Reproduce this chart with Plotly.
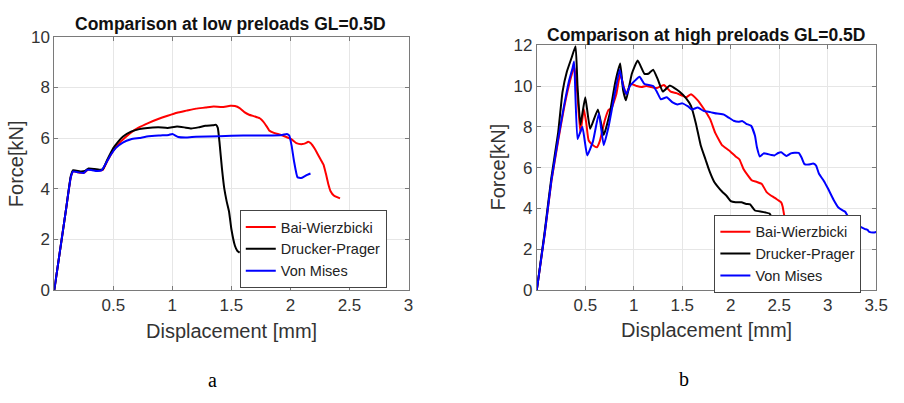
import plotly.graph_objects as go

# ---------------- data: low preloads (a) ----------------
bw_low_x = [0, 0.05, 0.10, 0.14, 0.16, 0.22, 0.26, 0.29, 0.34, 0.38, 0.41, 0.45, 0.50, 0.56, 0.62, 0.66,
            0.71, 0.80, 0.88, 0.96, 1.04, 1.12, 1.20, 1.28, 1.35, 1.42, 1.49, 1.53, 1.57, 1.61, 1.65,
            1.70, 1.74, 1.77, 1.80, 1.82, 1.86, 1.90, 1.96, 2.01, 2.05, 2.10, 2.13, 2.15, 2.17, 2.21,
            2.25, 2.28, 2.30, 2.32, 2.34, 2.37, 2.42]
bw_low_y = [0, 1.6, 3.2, 4.45, 4.68, 4.63, 4.65, 4.77, 4.75, 4.72, 4.74, 5.1, 5.5, 5.85, 6.1, 6.25,
            6.4, 6.6, 6.75, 6.88, 7.0, 7.08, 7.16, 7.2, 7.24, 7.22, 7.27, 7.26, 7.18, 7.02, 6.92,
            6.85, 6.78, 6.65, 6.45, 6.3, 6.2, 6.15, 6.05, 5.95, 5.8, 5.76, 5.8, 5.85, 5.8, 5.55,
            5.2, 4.95, 4.6, 4.2, 3.9, 3.72, 3.62]

dp_low_x = [0, 0.05, 0.10, 0.14, 0.16, 0.22, 0.26, 0.29, 0.34, 0.38, 0.41, 0.45, 0.50, 0.54, 0.58, 0.65,
            0.72, 0.79, 0.88, 0.96, 1.04, 1.10, 1.16, 1.22, 1.28, 1.34, 1.37, 1.385, 1.40, 1.42, 1.44,
            1.46, 1.48, 1.50, 1.53, 1.55, 1.57]
dp_low_y = [0, 1.6, 3.2, 4.5, 4.73, 4.68, 4.7, 4.8, 4.78, 4.75, 4.76, 5.15, 5.6, 5.85, 6.05, 6.25,
            6.35, 6.4, 6.42, 6.4, 6.45, 6.42, 6.38, 6.42, 6.48, 6.5, 6.52, 6.4, 5.8, 4.8, 4.0,
            3.5, 3.1, 2.4, 1.75, 1.55, 1.48]

vm_low_x = [0, 0.05, 0.10, 0.14, 0.16, 0.20, 0.25, 0.28, 0.32, 0.36, 0.40, 0.44, 0.48, 0.52, 0.58, 0.65,
            0.72, 0.80, 0.90, 0.97, 1.00, 1.05, 1.12, 1.20, 1.40, 1.60, 1.80, 1.93, 1.97, 1.99, 2.01,
            2.03, 2.06, 2.09, 2.13, 2.17]
vm_low_y = [0, 1.6, 3.2, 4.45, 4.68, 4.65, 4.62, 4.75, 4.73, 4.7, 4.72, 5.02, 5.35, 5.6, 5.82, 5.95,
            6.0, 6.07, 6.1, 6.12, 6.16, 6.04, 6.02, 6.05, 6.07, 6.1, 6.1, 6.12, 6.16, 6.1, 5.7,
            5.1, 4.45, 4.42, 4.52, 4.6]

# ---------------- data: high preloads (b) ----------------
bw_high_x = [0, 0.08, 0.15, 0.22, 0.28, 0.33, 0.37, 0.39, 0.42, 0.45, 0.485, 0.51, 0.535, 0.58, 0.62,
             0.65, 0.70, 0.74, 0.77, 0.82, 0.86, 0.89, 0.92, 0.97, 1.03, 1.08, 1.13, 1.18, 1.24, 1.31,
             1.38, 1.44, 1.49, 1.54, 1.59, 1.66, 1.72, 1.76, 1.79, 1.84, 1.89, 1.91, 1.98, 2.05, 2.09,
             2.13, 2.18, 2.22, 2.27, 2.32, 2.37, 2.41, 2.45, 2.49, 2.52, 2.535, 2.55, 2.57]
bw_high_y = [0, 2.7, 5.3, 7.3, 8.9, 10.0, 10.7, 10.9, 9.5, 7.7, 8.88, 8.2, 7.33, 7.1, 7.0,
             7.3, 8.3, 8.83, 8.9, 9.6, 10.6, 10.1, 9.6, 10.1, 10.0, 9.95, 10.0, 9.95, 9.9, 10.05,
             9.73, 9.65, 9.55, 9.45, 9.6, 9.3, 8.9, 8.6, 8.35, 7.7, 7.26, 7.1, 6.85, 6.55, 6.4,
             5.95, 5.6, 5.37, 5.3, 5.2, 4.8, 4.65, 4.53, 4.4, 4.3, 4.1, 3.7, 3.3]

dp_high_x = [0, 0.08, 0.15, 0.22, 0.265, 0.31, 0.36, 0.40, 0.42, 0.45, 0.50, 0.55, 0.63, 0.69, 0.75,
             0.81, 0.86, 0.89, 0.92, 0.98, 1.04, 1.11, 1.15, 1.20, 1.25, 1.30, 1.37, 1.42, 1.47, 1.54,
             1.59, 1.64, 1.69, 1.74, 1.78, 1.83, 1.87, 1.91, 1.96, 2.00, 2.05, 2.11, 2.16, 2.20, 2.25,
             2.32, 2.36, 2.40, 2.42, 2.47]
dp_high_y = [0, 2.8, 5.5, 7.7, 9.7, 10.7, 11.4, 11.95, 10.0, 8.1, 9.45, 7.9, 8.85, 7.6, 8.6,
             10.2, 11.1, 9.8, 9.3, 10.6, 11.25, 10.6, 10.6, 10.8, 10.3, 9.73, 10.02, 9.9, 9.73, 9.4,
             9.03, 8.18, 7.1, 6.4, 5.84, 5.3, 5.05, 4.83, 4.6, 4.36, 4.3, 4.3, 4.22, 4.2, 3.9,
             3.84, 3.8, 3.75, 3.6, 3.3]

vm_high_x = [0, 0.08, 0.15, 0.22, 0.28, 0.33, 0.37, 0.385, 0.42, 0.47, 0.52, 0.58, 0.64, 0.69, 0.74,
             0.78, 0.855, 0.89, 0.925, 0.96, 1.06, 1.11, 1.20, 1.24, 1.28, 1.34, 1.40, 1.45, 1.50, 1.56,
             1.60, 1.66, 1.72, 1.79, 1.86, 1.93, 1.98, 2.03, 2.08, 2.12, 2.16, 2.21, 2.25, 2.27, 2.30,
             2.34, 2.37, 2.42, 2.45, 2.49, 2.52, 2.575, 2.62, 2.66, 2.70, 2.73, 2.76, 2.80, 2.85, 2.88,
             2.91, 2.96, 3.00, 3.06, 3.11, 3.15, 3.18, 3.21, 3.30, 3.38, 3.41, 3.43, 3.47, 3.50]
vm_high_y = [0, 2.7, 5.35, 7.4, 9.0, 10.2, 10.9, 11.2, 7.4, 8.0, 6.6, 7.3, 8.65, 7.1, 8.0,
             9.0, 10.8, 10.0, 9.6, 10.0, 10.45, 10.1, 10.0, 9.7, 9.35, 9.45, 9.2, 9.1, 9.15, 9.0,
             8.85, 8.95, 8.78, 8.72, 8.65, 8.6, 8.45, 8.3, 8.25, 8.28, 8.15, 8.05, 7.56, 7.0, 6.55,
             6.7, 6.68, 6.62, 6.6, 6.72, 6.75, 6.57, 6.7, 6.73, 6.72, 6.5, 6.17, 6.15, 6.2, 6.1,
             5.7, 5.35, 5.0, 4.43, 4.05, 3.92, 3.84, 3.6, 3.2, 3.0, 2.95, 2.85, 2.82, 2.85]

series_names = ["Bai-Wierzbicki", "Drucker-Prager", "Von Mises"]
series_colors = ["#ff0000", "#000000", "#0000ff"]

x_ticks_a = [0.5, 1, 1.5, 2, 2.5, 3]
y_ticks_a = [0, 2, 4, 6, 8, 10]
x_ticks_b = [0.5, 1, 1.5, 2, 2.5, 3, 3.5]
y_ticks_b = [0, 2, 4, 6, 8, 10, 12]

title_a = "Comparison at low preloads GL=0.5D"
title_b = "Comparison at high preloads GL=0.5D"
x_title = "Displacement [mm]"
y_title = "Force[kN]"

W, H = 904, 403
FONT = "Liberation Sans, Arial, sans-serif"

fig = go.Figure()
low = [(bw_low_x, bw_low_y), (dp_low_x, dp_low_y), (vm_low_x, vm_low_y)]
high = [(bw_high_x, bw_high_y), (dp_high_x, dp_high_y), (vm_high_x, vm_high_y)]
for (xs, ys), name, col in zip(low, series_names, series_colors):
    fig.add_trace(go.Scatter(x=xs, y=ys, mode="lines", name=name,
                             line=dict(color=col, width=2, shape="spline", smoothing=0.4),
                             xaxis="x", yaxis="y", legend="legend"))
for (xs, ys), name, col in zip(high, series_names, series_colors):
    fig.add_trace(go.Scatter(x=xs, y=ys, mode="lines", name=name,
                             line=dict(color=col, width=2, shape="spline", smoothing=0.4),
                             xaxis="x2", yaxis="y2", legend="legend2"))

def px2x(p):
    return p / W

def px2y(p):
    return 1 - p / H

axis_common = dict(showline=True, linecolor="#7a7a7a", linewidth=1, mirror="ticks",
                   ticks="inside", ticklen=4, tickcolor="#7a7a7a",
                   showgrid=True, gridcolor="#e6e6e6", gridwidth=1, zeroline=False,
                   tickfont=dict(family=FONT, size=17, color="#333333"))

legend_common = dict(xanchor="left", yanchor="top", bgcolor="white",
                     bordercolor="#444444", borderwidth=1,
                     font=dict(family=FONT, size=14.5, color="#222222"), tracegroupgap=0)

fig.update_layout(
    width=W, height=H, margin=dict(l=0, r=0, t=0, b=0),
    paper_bgcolor="white", plot_bgcolor="white",
    font=dict(family=FONT, color="#333333"),
    xaxis=dict(domain=[px2x(55), px2x(414)], range=[0, 3], tickvals=x_ticks_a,
               anchor="y", **axis_common),
    yaxis=dict(domain=[px2y(295), px2y(29)], range=[0, 10], tickvals=y_ticks_a,
               anchor="x", **axis_common),
    xaxis2=dict(domain=[px2x(544), px2x(888)], range=[0, 3.5], tickvals=x_ticks_b,
                anchor="y2", **axis_common),
    yaxis2=dict(domain=[px2y(295), px2y(38)], range=[0, 12], tickvals=y_ticks_b,
                anchor="x2", **axis_common),
    legend=dict(x=px2x(243), y=px2y(211), **legend_common),
    legend2=dict(x=px2x(724), y=px2y(216), **legend_common),
    showlegend=True,
)

annos = [
    dict(text="<b>" + title_a + "</b>", x=px2x(234), y=px2y(16), size=17.5, color="#111111", angle=0, fam=FONT),
    dict(text="<b>" + title_b + "</b>", x=px2x(716), y=px2y(27), size=17.5, color="#111111", angle=0, fam=FONT),
    dict(text=x_title, x=px2x(235), y=px2y(338), size=20, color="#333333", angle=0, fam=FONT),
    dict(text=x_title, x=px2x(716), y=px2y(337), size=20, color="#333333", angle=0, fam=FONT),
    dict(text=y_title, x=px2x(17), y=px2y(162), size=20, color="#333333", angle=-90, fam=FONT),
    dict(text=y_title, x=px2x(505), y=px2y(166), size=20, color="#333333", angle=-90, fam=FONT),
    dict(text="a", x=px2x(215), y=px2y(389), size=20, color="#000000", angle=0, fam="Liberation Serif, Times New Roman, serif"),
    dict(text="b", x=px2x(693), y=px2y(388), size=20, color="#000000", angle=0, fam="Liberation Serif, Times New Roman, serif"),
]
for a in annos:
    fig.add_annotation(text=a["text"], x=a["x"], y=a["y"], xref="paper", yref="paper",
                       xanchor="center", yanchor="middle", showarrow=False, textangle=a["angle"],
                       font=dict(family=a["fam"], size=a["size"], color=a["color"]))

fig.write_html("out.html")
